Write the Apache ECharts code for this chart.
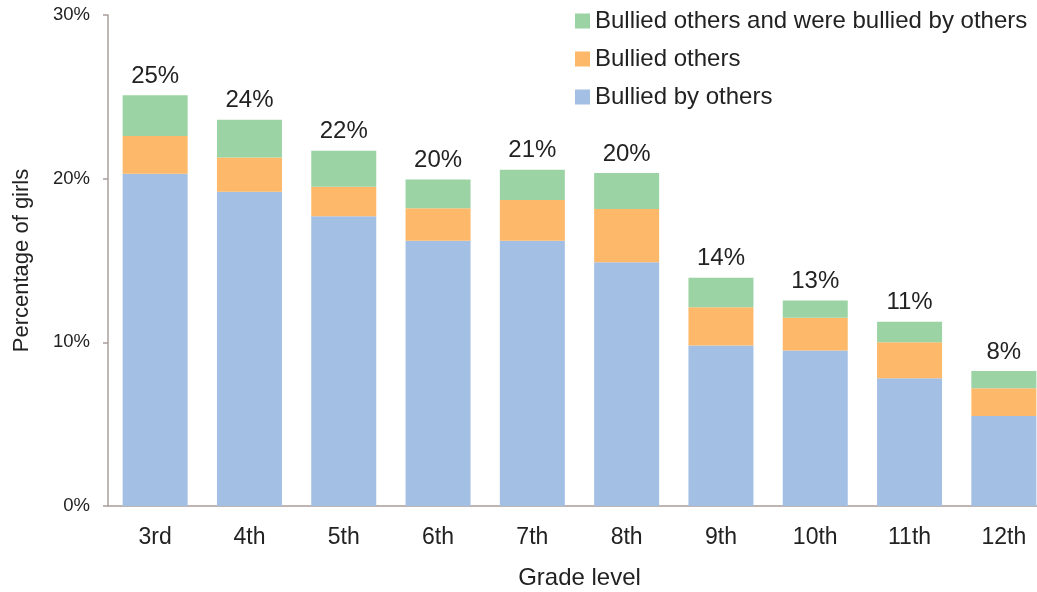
<!DOCTYPE html>
<html><head><meta charset="utf-8">
<script src="https://cdn.jsdelivr.net/npm/echarts@6/dist/echarts.min.js"></script>
<style>html,body{margin:0;padding:0;background:#fff}#c{width:1037px;height:592px}</style>
</head><body><div id="c"></div>
<script>
const grades = ["3rd","4th","5th","6th","7th","8th","9th","10th","11th","12th"];
const bulliedBy = [20.3,19.2,17.7,16.2,16.2,14.9,9.8,9.5,7.8,5.5];
const bulliedOthers = [2.3,2.1,1.8,2.0,2.5,3.25,2.35,2.0,2.2,1.7];
const both = [2.5,2.3,2.2,1.75,1.85,2.2,1.8,1.05,1.26,1.05];
const totalLabels = ["25%","24%","22%","20%","21%","20%","14%","13%","11%","8%"];
const yTicks = [0,10,20,30];

const axisColor = '#aa9f9c';
const font = 'Liberation Sans, Arial, sans-serif';
const chart = echarts.init(document.getElementById('c'));
chart.setOption({
  animation:false,
  textStyle:{fontFamily:font},
  grid:{left:108, top:15, width:943, height:491, outerBoundsMode:'none', containLabel:false},
  legend:{
    orient:'vertical', left:570, top:4,
    itemWidth:15, itemHeight:15, itemGap:14,
    icon:'rect',
    data:['Bullied others and were bullied by others','Bullied others','Bullied by others'],
    textStyle:{fontSize:24, color:'#222', fontFamily:font}
  },
  xAxis:{
    type:'category', data:grades,
    name:'Grade level', nameLocation:'middle', nameGap:60,
    nameTextStyle:{fontSize:24,color:'#222',fontFamily:font},
    axisLine:{lineStyle:{color:axisColor,width:1.5}},
    axisTick:{show:false},
    axisLabel:{fontSize:23,color:'#222',margin:20,fontFamily:font}
  },
  yAxis:{
    type:'value', min:yTicks[0], max:yTicks[yTicks.length-1], interval:10,
    name:'Percentage of girls', nameLocation:'middle', nameGap:75,
    nameTextStyle:{fontSize:22,color:'#222',fontFamily:font},
    axisLine:{show:true,lineStyle:{color:axisColor,width:1.5}},
    axisTick:{show:true,length:5,lineStyle:{color:axisColor,width:1.5}},
    splitLine:{show:false},
    axisLabel:{fontSize:18.5,color:'#222',margin:18,formatter:'{value}%',fontFamily:font}
  },
  series:[
    {name:'Bullied by others', type:'bar', stack:'a', data:bulliedBy, barWidth:65,
     itemStyle:{color:'#a3bfe3'}},
    {name:'Bullied others', type:'bar', stack:'a', data:bulliedOthers, barWidth:65,
     itemStyle:{color:'#fdb86a'}},
    {name:'Bullied others and were bullied by others', type:'bar', stack:'a', data:both, barWidth:65,
     itemStyle:{color:'#9cd3a5'},
     label:{show:true, position:'top', distance:7, fontSize:24, color:'#222', fontFamily:font,
       formatter:p=>totalLabels[p.dataIndex]}}
  ]
});
</script></body></html>
